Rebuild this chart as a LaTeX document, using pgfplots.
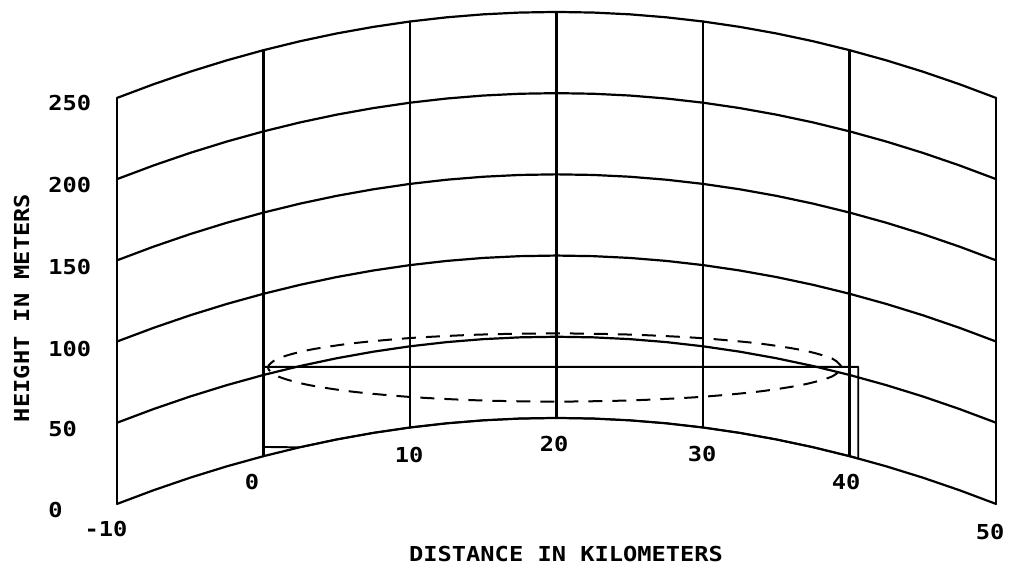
\documentclass[border=0pt]{standalone}
\usepackage{pgfplots}
\pgfplotsset{compat=1.18}
\usepackage{pgfplotstable}
\usepackage{fontspec}
\newfontfamily\plotfont[FakeStretch=1.15]{DejaVu Sans Mono}

% curved-earth grid: x in km, columns give plotted height of each constant-height line
\pgfplotstableread{
x     h0     h50     h100    h150    h200    h250
-10   0.00   50.00   100.00  150.00  200.00  250.00
-7.5  8.45   58.45   108.45  158.45  208.45  258.45
-5    16.18  66.18   116.18  166.18  216.18  266.18
-2.5  23.16  73.16   123.16  173.16  223.16  273.16
0     29.41  79.41   129.41  179.41  229.41  279.41
2.5   34.93  84.93   134.93  184.93  234.93  284.93
5     39.71  89.71   139.71  189.71  239.71  289.71
7.5   43.75  93.75   143.75  193.75  243.75  293.75
10    47.06  97.06   147.06  197.06  247.06  297.06
12.5  49.63  99.63   149.63  199.63  249.63  299.63
15    51.47  101.47  151.47  201.47  251.47  301.47
17.5  52.57  102.57  152.57  202.57  252.57  302.57
20    52.94  102.94  152.94  202.94  252.94  302.94
22.5  52.57  102.57  152.57  202.57  252.57  302.57
25    51.47  101.47  151.47  201.47  251.47  301.47
27.5  49.63  99.63   149.63  199.63  249.63  299.63
30    47.06  97.06   147.06  197.06  247.06  297.06
32.5  43.75  93.75   143.75  193.75  243.75  293.75
35    39.71  89.71   139.71  189.71  239.71  289.71
37.5  34.93  84.93   134.93  184.93  234.93  284.93
40    29.41  79.41   129.41  179.41  229.41  279.41
42.5  23.16  73.16   123.16  173.16  223.16  273.16
45    16.18  66.18   116.18  166.18  216.18  266.18
47.5  8.45   58.45   108.45  158.45  208.45  258.45
50    0.00   50.00   100.00  150.00  200.00  250.00
}\grid

\begin{document}
\begin{tikzpicture}
\begin{axis}[
  x=7.325pt, y=0.812pt,
  xmin=-17.99, xmax=51.09, ymin=-38.8, ymax=310.3,
  axis line style={draw=none}, xtick=\empty, ytick=\empty,
  clip=false,
  gl/.style={black, solid, line width=1.1pt, line join=round, line cap=round, mark=none},
]
% constant-height curves
\addplot[gl] table[x=x, y=h0]   {\grid};
\addplot[gl] table[x=x, y=h50]  {\grid};
\addplot[gl] table[x=x, y=h100] {\grid};
\addplot[gl] table[x=x, y=h150] {\grid};
\addplot[gl] table[x=x, y=h200] {\grid};
\addplot[gl] table[x=x, y=h250] {\grid};
% vertical distance lines
\addplot[gl] coordinates {(-10,0) (-10,250)};
\addplot[gl] coordinates {(0,29.41) (0,279.41)};
\addplot[gl] coordinates {(10,47.06) (10,297.06)};
\addplot[gl] coordinates {(20,52.94) (20,302.94)};
\addplot[gl] coordinates {(30,47.06) (30,297.06)};
\addplot[gl] coordinates {(40,29.41) (40,279.41)};
\addplot[gl] coordinates {(50,0) (50,250)};
% path outline
\addplot[gl, line width=0.9pt] coordinates {
 (0,84.4) (40.6,84.4) (40.6,27.98) (40,29.41) (37.5,34.93) (35,39.71) (32.5,43.75)
 (30,47.06) (27.5,49.63) (25,51.47) (22.5,52.57) (20,52.94) (17.5,52.57) (15,51.47)
 (12.5,49.63) (10,47.06) (7.5,43.75) (5,39.71) (2.5,34.93) (0,35.0) (0,84.4)};
% dashed zone
\addplot[gl, line width=1.0pt, smooth, dash pattern=on 7pt off 5pt, line cap=butt] coordinates {
 (39.50,84.00) (38.83,89.43) (36.87,94.50) (33.76,98.85) (29.70,102.19) (24.97,104.28)
 (19.90,105.00) (14.83,104.28) (10.10,102.19) (6.04,98.85) (2.93,94.50) (0.97,89.43)
 (0.30,84.00) (0.97,78.57) (2.93,73.50) (6.04,69.15) (10.10,65.81) (14.83,63.72)
 (19.90,63.00) (24.97,63.72) (29.70,65.81) (33.76,69.15) (36.87,73.50) (38.83,78.57)
 (39.50,84.00)};
% labels
\begin{scope}[every node/.style={font=\plotfont\fontsize{10.3pt}{12pt}\selectfont\bfseries, inner sep=0pt}]
\node[anchor=west] at (axis cs:-14.71,246.9) {250};
\node[anchor=west] at (axis cs:-14.71,196.4) {200};
\node[anchor=west] at (axis cs:-14.71,145.9) {150};
\node[anchor=west] at (axis cs:-14.71,95.4) {100};
\node[anchor=west] at (axis cs:-14.71,46.2) {50};
\node[anchor=west] at (axis cs:-14.71,-3.7) {0};
\node at (axis cs:-10.75,-15.4) {-10};
\node at (axis cs:-0.78,13.5) {0};
\node at (axis cs:9.93,30.2) {10};
\node at (axis cs:19.83,36.9) {20};
\node at (axis cs:29.93,30.8) {30};
\node at (axis cs:39.76,13.5) {40};
\node at (axis cs:49.59,-17.2) {50};
\node at (axis cs:20.65,-30.6) {DISTANCE IN KILOMETERS};
\node[rotate=90] at (axis cs:-16.52,120.7) {HEIGHT IN METERS};
\end{scope}
\end{axis}
\end{tikzpicture}
\end{document}
